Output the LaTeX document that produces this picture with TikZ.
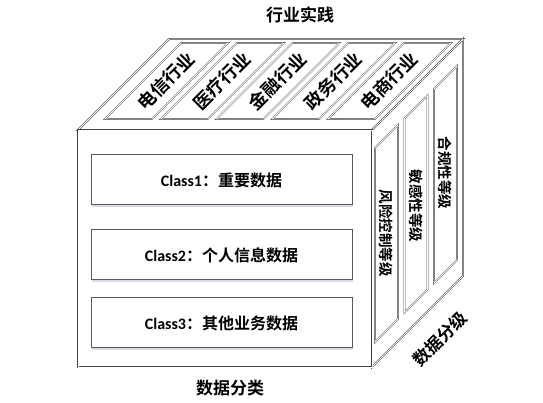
\documentclass[tikz,border=0pt]{standalone}
\usepackage{fontspec}
\setmainfont{Carlito}
\newfontfamily\cjk{Noto Sans CJK SC}[BoldFont={Noto Sans CJK SC Bold}]
\begin{document}
\begin{tikzpicture}[x=1pt,y=1pt,
  edge/.style={draw=black!75,double=white,line width=0.5pt,double distance=0.9pt,line join=miter},
  strip/.style={draw=black!75,double=white,line width=0.45pt,double distance=0.8pt,fill=white},
  classbox/.style={draw=black!65,line width=1pt,fill=white,minimum width=261pt,minimum height=50pt,inner sep=0pt},
  shadowbox/.style={fill=blue!15!gray!25,draw=none,minimum width=261pt,minimum height=50pt,inner sep=0pt},
  toptxt/.style={font=\cjk\bfseries\fontsize{18}{18}\selectfont,rotate=45,inner sep=0pt},
  sidetxt/.style={font=\cjk\bfseries\fontsize{14.5}{14.5}\selectfont,rotate=-90,inner sep=0pt},
  lbl/.style={font=\cjk\bfseries\fontsize{17}{17}\selectfont,inner sep=0pt},
  cls/.style={font=\bfseries\fontsize{16}{16}\selectfont}
]
\useasboundingbox (0,0) rectangle (543,403);
% cube faces
\path[edge,fill=white] (78,273) -- (372,273) -- (463,364) -- (169,364) -- cycle;
\path[edge,fill=white] (372,273) -- (463,364) -- (463,127) -- (372,36) -- cycle;
\path[edge,fill=white] (78,36) rectangle (372,273);
% top strips
\foreach \i in {0,...,4}{
  \pgfmathsetmacro\a{105+55.75*\i}
  \path[strip] (\a,284) -- (\a+47,284) -- (\a+123,360) -- (\a+76,360) -- cycle;
}
\node[toptxt] (t1) at (166,322) {电信行业};
\node[toptxt] (t2) at ({166+55.75},322) {医疗行业};
\node[toptxt] (t3) at ({166+2*55.75},322) {金融行业};
\node[toptxt] (t4) at ({166+3*55.75},322) {政务行业};
\node[toptxt] (t5) at ({166+4*55.75},322) {电商行业};
% right strips
\foreach \a in {375,404.5,434}{
  \path[strip] (\a,{61+\a-375}) -- (\a+23,{84+\a-375}) -- (\a+23,{278+\a-375}) -- (\a,{255+\a-375}) -- cycle;
}
\node[sidetxt] (s1) at (386.5,169.5) {风险控制等级};
\node[sidetxt] (s2) at (416,197) {敏感性等级};
\node[sidetxt] (s3) at (445.5,230) {合规性等级};
% class boxes
\node[shadowbox] at (222.5,221) {};
\node[shadowbox] at (222.5,146) {};
\node[shadowbox] at (222.5,78) {};
\node[classbox,cls] (c1) at (221.5,223) {Class1{\cjk：重要数据}};
\node[classbox,cls] (c2) at (221.5,148) {Class2{\cjk：个人信息数据}};
\node[classbox,cls] (c3) at (221.5,80) {Class3{\cjk：其他业务数据}};
% labels
\node[lbl] (top) at (300,388) {行业实践};
\node[lbl] (bottom) at (230,15) {数据分类};
\node[lbl,rotate=45] (side) at (440,64) {数据分级};
\end{tikzpicture}
\end{document}
